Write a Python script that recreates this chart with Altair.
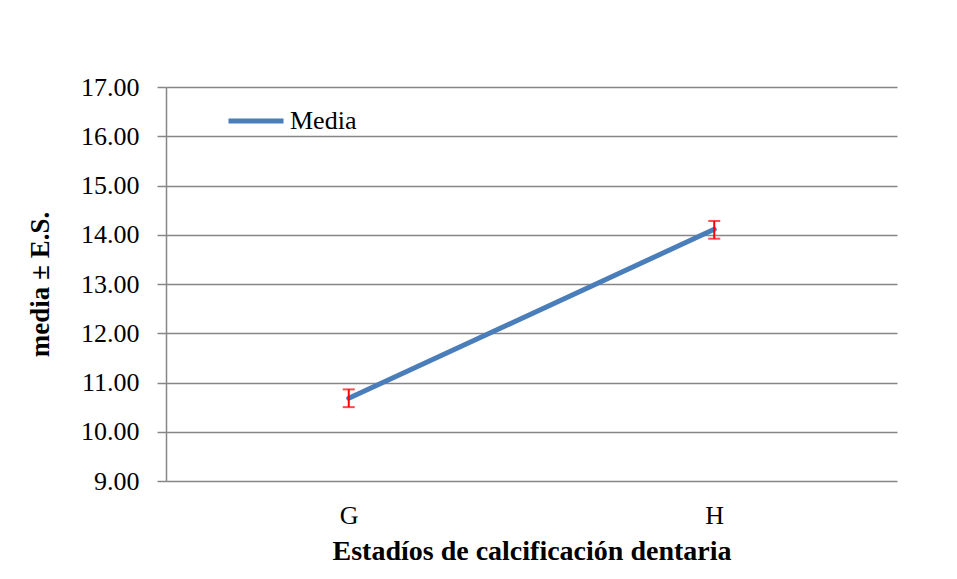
import altair as alt
import pandas as pd

categories = ["G", "H"]
means = [10.68, 14.11]
lower = [10.50, 13.92]
upper = [10.86, 14.28]
series = ["Media", "Media"]

df = pd.DataFrame({"cat": categories, "mean": means, "lo": lower, "hi": upper, "serie": series})

FONT = "Liberation Serif"
BLUE = "#4A7EBB"

x_enc = alt.X("cat:N", scale=alt.Scale(type="point", padding=0.5),
              axis=alt.Axis(title="Estadíos de calcificación dentaria", labelAngle=0,
                            ticks=False, tickSize=0, domain=False, labelPadding=21,
                            labelFont=FONT, labelFontSize=26, labelColor="black",
                            titleFont=FONT, titleFontSize=28, titleFontWeight="bold",
                            titleColor="black", titleY=70, titleBaseline="middle"))

y_scale = alt.Scale(domain=[9, 17], nice=False, zero=False)
y_axis = alt.Axis(title="media ± E.S.", values=[9, 10, 11, 12, 13, 14, 15, 16, 17],
                  format=".2f", grid=True, gridColor="#868686", gridWidth=1.5,
                  domainColor="#868686", domainWidth=1.5, tickColor="#868686",
                  tickWidth=1.5, tickSize=9, labelPadding=18,
                  labelFont=FONT, labelFontSize=26, labelColor="black",
                  titleFont=FONT, titleFontSize=27, titleFontWeight="bold",
                  titleColor="black", titleAngle=270, titleX=-126, titleY=197,
                  titleAlign="center", titleBaseline="middle")

line = alt.Chart(df).mark_line(strokeWidth=5, strokeCap="round").encode(
    x=x_enc,
    y=alt.Y("mean:Q", scale=y_scale, axis=y_axis),
    color=alt.Color("serie:N", scale=alt.Scale(domain=["Media"], range=[BLUE]),
                    legend=alt.Legend(title=None, orient="none", legendX=60, legendY=4,
                                      symbolType="stroke", symbolSize=3025,
                                      symbolStrokeWidth=5, labelFont=FONT,
                                      labelFontSize=26, labelColor="black",
                                      labelOffset=4)),
)

err = alt.Chart(df).mark_rule(color="red", strokeWidth=2).encode(
    x="cat:N", y=alt.Y("lo:Q"), y2="hi:Q")
cap_lo = alt.Chart(df).mark_tick(color="red", thickness=2, size=12).encode(
    x="cat:N", y="lo:Q")
cap_hi = alt.Chart(df).mark_tick(color="red", thickness=2, size=12).encode(
    x="cat:N", y="hi:Q")

chart = alt.layer(line, err, cap_lo, cap_hi).properties(
    width=731, height=394,
    autosize=alt.AutoSizeParams(type="none"),
    padding={"left": 158, "top": 79, "right": 40, "bottom": 90},
).configure_view(stroke=None).configure_legend(labelFont=FONT)

chart.save("out.html", embed_options={"renderer": "svg", "actions": False})
